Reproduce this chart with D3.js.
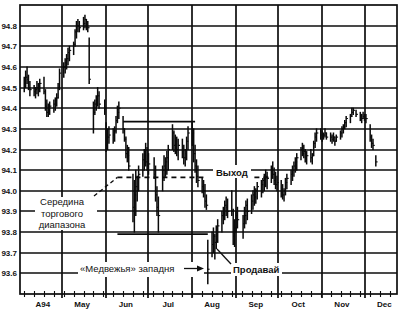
<!DOCTYPE html>
<html>
<head>
<meta charset="utf-8" />
<title></title>
<style>
html, body {
    padding: 0px;
    margin: 0px;
    background: #fff;
}
svg text {
    font-family: "Liberation Sans", Arial, sans-serif;
    fill: #111;
}
</style>
</head>
<body>
<svg id="chart" width="407" height="311"></svg>
<script src="https://cdnjs.cloudflare.com/ajax/libs/d3/7.8.5/d3.min.js"></script>
<script>
// daily bars, 5 per week starting Mon 4 Apr 1994, null = no trading
var hi = [
 94.55,94.58,94.60,94.56,94.53,
 94.51,94.50,94.53,94.52,94.54,
 94.55,94.49,94.44,94.42,94.43,
 94.44,94.45,94.47,94.52,94.59,
 94.62,94.64,94.66,94.69,94.70,
 94.72,94.78,94.82,94.83,94.82,
 94.84,94.85,94.83,94.82,94.74,
 94.43,94.44,94.46,94.50,94.48,
 null, 94.44,94.33,94.30,94.31,
 94.30,94.31,94.36,94.41,94.43,
 94.36,94.30,94.26,94.22,94.21,
 94.08,94.05,94.10,94.07,94.12,
 94.18,94.20,94.23,94.21,94.18,
 null, 94.16,94.12,94.02,93.97,
 94.12,94.17,94.16,94.19,94.22,
 94.32,94.29,94.27,94.26,94.25,
 94.25,94.22,94.20,94.26,94.31,
 94.33,94.30,94.22,94.15,94.12,
 94.06,94.05,94.03,93.98,93.76,
 93.80,93.82,93.79,93.83,93.86,
 93.90,93.92,93.95,93.97,93.96,
 94.00,93.91,93.86,93.90,93.92,
 null, 93.88,93.92,93.95,93.96,
 93.98,94.00,94.02,94.01,94.04,
 94.05,94.06,94.08,94.10,94.09,
 94.12,94.14,94.11,94.09,94.07,
 94.05,94.03,94.01,94.06,94.08,
 94.10,94.12,94.14,94.16,94.18,
 94.21,94.23,94.22,94.20,94.19,
 94.20,94.18,94.24,94.28,94.30,
 94.30,94.29,94.28,94.30,94.28,
 94.28,94.27,94.28,94.26,94.27,
 94.29,94.31,94.32,94.34,94.36,
 94.37,94.40,94.40,null, 94.39,
 94.38,94.37,94.38,94.37,94.37,
 94.32,94.27,94.25,null, 94.17
];
var lo = [
 94.48,94.50,94.52,94.49,94.46,
 94.46,94.45,94.47,94.46,94.48,
 94.47,94.39,94.36,94.36,94.37,
 94.38,94.39,94.41,94.45,94.49,
 94.55,94.57,94.59,94.61,94.63,
 94.66,94.70,94.74,94.77,94.77,
 94.78,94.79,94.78,94.77,94.52,
 94.28,94.37,94.39,94.41,94.40,
 null, 94.37,94.19,94.20,94.23,
 94.23,94.24,94.28,94.33,94.35,
 94.28,94.24,94.16,94.14,94.10,
 93.85,93.80,93.88,93.95,94.00,
 94.07,94.10,94.12,94.10,94.08,
 null, 94.06,93.95,93.88,93.80,
 94.00,94.05,94.07,94.08,94.10,
 94.20,94.19,94.18,94.17,94.15,
 94.16,94.13,94.12,94.15,94.20,
 94.22,94.14,94.09,94.04,94.02,
 93.99,93.97,93.92,93.91,93.55,
 93.68,93.70,93.67,93.72,93.75,
 93.80,93.84,93.86,93.88,93.87,
 93.88,93.74,93.73,93.80,93.82,
 null, 93.77,93.82,93.84,93.86,
 93.89,93.91,93.93,93.94,93.96,
 93.97,93.99,94.00,94.02,94.01,
 94.04,94.06,94.03,94.01,94.00,
 93.97,93.96,93.95,93.98,94.01,
 94.03,94.05,94.07,94.09,94.10,
 94.15,94.17,94.16,94.14,94.13,
 94.14,94.13,94.17,94.21,94.24,
 94.25,94.24,94.25,94.26,94.25,
 94.24,94.23,94.24,94.22,94.24,
 94.25,94.26,94.28,94.30,94.31,
 94.33,94.36,94.37,null, 94.36,
 94.34,94.33,94.35,94.34,94.33,
 94.24,94.21,94.20,null, 94.12
];
var cl = [
 94.52,94.55,94.54,94.50,94.49,
 94.48,94.49,94.50,94.50,94.52,
 94.48,94.41,94.38,94.40,94.41,
 94.42,94.44,94.45,94.50,94.57,
 94.60,94.62,94.64,94.67,94.68,
 94.71,94.77,94.80,94.80,94.79,
 94.81,94.83,94.80,94.79,94.54,
 94.38,94.42,94.44,94.46,94.42,
 null, 94.40,94.22,94.26,94.27,
 94.27,94.29,94.34,94.38,94.40,
 94.30,94.25,94.18,94.17,94.12,
 93.92,93.98,94.02,94.00,94.08,
 94.15,94.17,94.14,94.12,94.13,
 null, 94.08,93.98,93.92,93.88,
 94.10,94.12,94.14,94.16,94.20,
 94.28,94.22,94.24,94.20,94.22,
 94.20,94.16,94.18,94.24,94.28,
 94.28,94.18,94.12,94.07,94.05,
 94.02,94.00,93.95,93.93,93.62,
 93.74,93.78,93.75,93.80,93.83,
 93.88,93.90,93.93,93.92,93.90,
 93.90,93.78,93.82,93.88,93.86,
 null, 93.84,93.88,93.93,93.90,
 93.95,93.98,93.97,94.00,94.02,
 94.03,94.05,94.06,94.07,94.06,
 94.10,94.08,94.05,94.03,94.04,
 93.99,93.98,94.00,94.04,94.06,
 94.08,94.10,94.12,94.14,94.16,
 94.20,94.18,94.19,94.16,94.17,
 94.16,94.17,94.23,94.26,94.28,
 94.27,94.26,94.27,94.28,94.26,
 94.26,94.25,94.26,94.24,94.26,
 94.28,94.30,94.31,94.33,94.35,
 94.36,94.38,94.39,null, 94.37,
 94.36,94.35,94.36,94.35,94.35,
 94.26,94.23,94.22,null, 94.14
];

var priceTicks = [93.6,93.7,93.8,93.9,94.0,94.1,94.2,94.3,94.4,94.5,94.6,94.7,94.8];
var monthLabels = ["A94","May","Jun","Jul","Aug","Sep","Oct","Nov","Dec"];

!(function(){
    "use strict"

    var svg = d3.select("#chart")
    var left = 20, right = 397, top = 5, bottom = 294

    var x = d3.scaleTime()
        .domain([new Date(1994,3,1), new Date(1994,11,24)])
        .range([left, right])
    var y = d3.scaleLinear().domain([93.5, 94.9]).range([bottom, top])

    var start = new Date(1994,3,4)
    function dayOf(i) {
        return d3.timeDay.offset(start, Math.floor(i/5)*7 + i%5)
    }

    var grid = svg.append("g").attr("stroke", "#0d0d0d").attr("stroke-width", 1.7)

    // horizontal grid
    grid.selectAll(".h").data(priceTicks).enter().append("line")
        .attr("x1", left).attr("x2", right)
        .attr("y1", function(d){ return Math.round(y(d)) })
        .attr("y2", function(d){ return Math.round(y(d)) })

    // month lines
    var months = d3.timeMonth.range(new Date(1994,4,1), new Date(1994,11,2))
    grid.selectAll(".v").data(months).enter().append("line")
        .attr("x1", function(d){ return Math.round(x(d)) })
        .attr("x2", function(d){ return Math.round(x(d)) })
        .attr("y1", top).attr("y2", bottom + 4)

    // frame
    grid.append("rect")
        .attr("x", left).attr("y", top)
        .attr("width", right - left).attr("height", bottom - top)
        .attr("fill", "none")

    // weekly ticks on the date axis
    var weeks = d3.timeMonday.range(x.domain()[0], x.domain()[1])
    grid.selectAll(".wk").data(weeks).enter().append("line")
        .attr("stroke-width", 1.1)
        .attr("x1", function(d){ return Math.round(x(d)) + 0.5 })
        .attr("x2", function(d){ return Math.round(x(d)) + 0.5 })
        .attr("y1", bottom - 3).attr("y2", bottom + 3)

    // tick labels
    svg.selectAll(".yl").data(priceTicks).enter().append("text")
        .attr("x", 17).attr("y", function(d){ return y(d) + 3 })
        .attr("text-anchor", "end")
        .attr("font-size", 8).attr("font-weight", "bold")
        .text(function(d){ return d.toFixed(1) })

    svg.selectAll(".xl").data(monthLabels).enter().append("text")
        .attr("x", function(d, i){ return x(new Date(1994, 3 + i, 15)) + (i == 0 ? 3 : 0) })
        .attr("y", 307)
        .attr("text-anchor", "middle")
        .attr("font-size", 8).attr("font-weight", "bold")
        .text(function(d){ return d })

    // bars
    var idx = d3.range(hi.length).filter(function(i){ return hi[i] != null })
    var bars = svg.append("g").attr("stroke", "#0a0a0a").attr("stroke-width", 1.5)
    bars.selectAll(".b").data(idx).enter().append("line")
        .attr("x1", function(i){ return x(dayOf(i)) })
        .attr("x2", function(i){ return x(dayOf(i)) })
        .attr("y1", function(i){ return y(hi[i]) - 0.5 })
        .attr("y2", function(i){ return y(lo[i]) + 0.5 })
    bars.selectAll(".c").data(idx).enter().append("line")
        .attr("stroke-width", 1.1)
        .attr("x1", function(i){ return x(dayOf(i)) })
        .attr("x2", function(i){ return x(dayOf(i)) + 1.8 })
        .attr("y1", function(i){ return y(cl[i]) })
        .attr("y2", function(i){ return y(cl[i]) })

    // trading range
    var ann = svg.append("g").attr("stroke", "#0a0a0a").attr("stroke-width", 1.6)
    ann.append("line")
        .attr("x1", x(new Date(1994,5,13))).attr("x2", x(new Date(1994,7,3)))
        .attr("y1", y(94.335)).attr("y2", y(94.335))
    ann.append("line")
        .attr("x1", x(new Date(1994,5,9))).attr("x2", x(new Date(1994,7,12)))
        .attr("y1", y(93.79)).attr("y2", y(93.79))

    var mid = 94.065
    ann.append("line").attr("stroke-dasharray", "5 4")
        .attr("x1", x(new Date(1994,5,9))).attr("x2", x(new Date(1994,7,11)))
        .attr("y1", y(mid)).attr("y2", y(mid))
    ann.append("line").attr("stroke-dasharray", "5 4")
        .attr("x1", x(new Date(1994,8,14))).attr("x2", x(new Date(1994,8,24)))
        .attr("y1", y(mid)).attr("y2", y(mid))
    ann.append("line").attr("stroke-dasharray", "4 3").attr("stroke-width", 1.3)
        .attr("x1", 94).attr("y1", 196)
        .attr("x2", x(new Date(1994,5,9))).attr("y2", y(mid))

    // labels on white patches
    function patch(x0, y0, w, h) {
        svg.append("rect").attr("x", x0).attr("y", y0)
            .attr("width", w).attr("height", h).attr("fill", "#fff")
    }

    patch(35, 197, 62, 33)
    var midText = ["Середина", "торгового", "диапазона"]
    svg.selectAll(".mt").data(midText).enter().append("text")
        .attr("x", 62).attr("y", function(d, i){ return 205 + i * 11.5 })
        .attr("text-anchor", "middle").attr("font-size", 9.5)
        .text(function(d){ return d })

    patch(78, 262, 126, 15)
    svg.append("text").attr("x", 80).attr("y", 272)
        .attr("font-size", 9.5).text("«Медвежья» западня")
    svg.append("line").attr("stroke", "#111").attr("stroke-width", 1.3)
        .attr("x1", 184).attr("x2", 199).attr("y1", 268.5).attr("y2", 268.5)
    svg.append("path").attr("fill", "#111")
        .attr("d", "M204,268.5 L197,265.5 L197,271.5 Z")

    patch(213, 165, 38, 13)
    svg.append("text").attr("x", 216).attr("y", 176)
        .attr("font-size", 9.5).attr("font-weight", "bold").text("Выход")

    patch(231, 263, 51, 13)
    svg.append("text").attr("x", 233).attr("y", 273)
        .attr("font-size", 9.5).attr("font-weight", "bold").text("Продавай")
    svg.append("line").attr("stroke", "#111").attr("stroke-width", 1.3)
        .attr("x1", 231).attr("y1", 264).attr("x2", 217).attr("y2", 249)

}());
</script>
</body>
</html>
